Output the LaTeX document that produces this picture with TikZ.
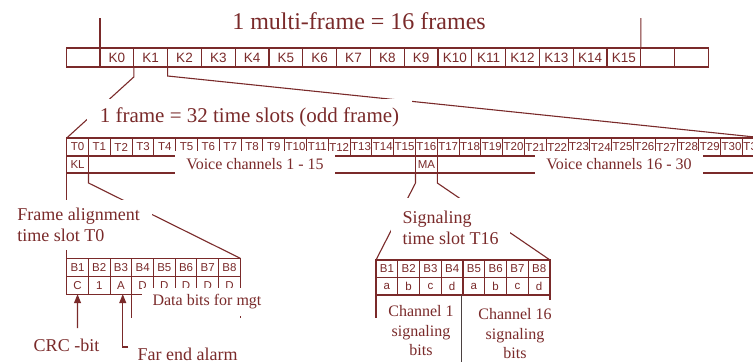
\documentclass[tikz,border=0pt]{standalone}
\usepackage{fontspec}
\setmainfont{Liberation Serif}
\setsansfont{Liberation Sans}
\usepackage{tikz}
\usetikzlibrary{arrows.meta}
\definecolor{framered}{RGB}{122,42,42}
\definecolor{divgray}{RGB}{75,65,65}

\begin{document}
\begin{tikzpicture}[x=1pt, y=-1pt, color=framered, line width=1.1pt,
  kcell/.style={draw, anchor=north west, minimum width=33.8pt,
                minimum height=19pt, inner sep=0pt, outer sep=0pt,
                font=\sffamily\fontsize{13.5}{14}\selectfont},
  tcell/.style={draw, anchor=north west, minimum width=21.8pt,
                minimum height=18pt, inner sep=0pt, outer sep=0pt,
                font=\sffamily\fontsize{11.5}{12}\selectfont},
  bcell/.style={tcell, minimum width=21.7pt, minimum height=18.4pt},
  mask/.style={fill=white, inner sep=0pt, align=center},
  arr/.style={-{Triangle[length=9pt,width=7pt]}},
  ]
  \useasboundingbox (0,0) rectangle (753,364);
  \clip (0,0) rectangle (753,364);
  \fill[white] (0,0) rectangle (753,364);

  % multi-frame row
  \foreach \i in {0,...,15}
    \node[kcell] (k\i) at ({100+33.8*\i},48) {K\i};
  \node[kcell, anchor=north east] (kfront) at (k0.north west) {};
  \node[kcell] (kback1) at (k15.north east) {};
  \node[kcell] (kback2) at (kback1.north east) {};
  \coordinate (tickL) at (100,18);
  \coordinate (tickR) at (640.8,18);
  \draw (k0.north west) -- (tickL);
  \draw (k15.north east) -- (tickR);

  % frame row
  \foreach \i in {0,...,31}
    \node[tcell] (t\i) at ({66.7+21.8*\i},138) {T\i};
  \node[tcell, minimum height=17pt] (kl) at (t0.south west) {KL};
  \node[tcell, minimum height=17pt] (ma) at (t16.south west) {MA};
  \draw (kl.north east) rectangle (ma.south west);
  \draw (ma.north east) rectangle (t31.south east |- ma.south);

  % time slot T0
  \foreach \lbl [count=\i] in {C,1,A,D,D,D,D,D} {
    \node[bcell] (b\i) at ({66.7+21.7*(\i-1)},258.3) {B\i};
    \node[bcell, minimum height=17.5pt] (c\i) at (b\i.south west) {\lbl};
  }

  % time slot T16
  \foreach \lbl [count=\i] in {a,b,c,d,a,b,c,d} {
    \node[bcell, minimum width=21.75pt, minimum height=17.3pt] (s\i)
      at ({376+21.75*(\i-1)},260) {B\i};
    \node[bcell, minimum width=21.75pt, minimum height=17.7pt] (sv\i)
      at (s\i.south west) {\lbl};
  }

  % zoom lines
  \draw (k1.south west) -- ++(0,10) -- (t0.north west);
  \draw (k2.south west) -- ++(0,9) -- (t31.north east);
  \draw (kl.south west) -- (b1.north west);
  \draw (kl.south east) -- ++(0,10) -- (b8.north east);
  \draw (ma.south west) -- ++(0,10) -- (s1.north west);
  \draw (ma.south east) -- ++(0,10) -- (s8.north east);
  \draw (c3.south east) -- ++(0,24);
  \draw (c8.south east) -- ++(0,24);
  \draw (sv1.south west) -- ++(0,23);
  \draw (sv8.south east) -- ++(0,8);
  \draw[divgray] ([xshift=-1.6pt]sv4.south east) -- ++(0,67);

  % labels
  \node[mask, font=\fontsize{24}{28}\selectfont, minimum width=262pt,
        minimum height=26pt] (mftitle) at (359,21) {1 multi-frame = 16 frames};
  \node[mask, font=\fontsize{21}{25}\selectfont, minimum width=325pt,
        minimum height=37pt] (frtitle) at (249.5,117.5)
        {1 frame = 32 time slots (odd frame)};
  \node[mask, font=\fontsize{16}{19}\selectfont, minimum width=160pt,
        minimum height=26pt] (voice1) at (255,164) {Voice channels 1 - 15};
  \node[mask, font=\fontsize{16}{19}\selectfont, minimum width=168pt,
        minimum height=26pt] (voice2) at (619,164) {Voice channels 16 - 30};
  \node[mask, align=left, font=\fontsize{18}{21}\selectfont,
        minimum width=147pt, minimum height=50pt] (fatext) at (78.5,225)
        {Frame alignment\\time slot T0};
  \node[mask, align=left, font=\fontsize{18}{21}\selectfont,
        minimum width=119pt, minimum height=60pt] (sigtext) at (450.5,228)
        {Signaling\\time slot T16};
  \node[mask, font=\fontsize{16}{19}\selectfont, minimum width=130pt,
        minimum height=28pt] (datatext) at (207,302) {Data bits for mgt};
  \node[font=\fontsize{18}{21}\selectfont, inner sep=2pt] (crctext)
        at (66.5,345) {CRC -bit};
  \node[font=\fontsize{18}{21}\selectfont, inner sep=2pt, anchor=west]
        (featext) at (135,354) {Far end alarm};
  \node[align=center, font=\fontsize{16}{19.5}\selectfont] (ch1text)
        at (421,331) {Channel 1\\signaling\\bits};
  \node[mask, font=\fontsize{16}{19.5}\selectfont, minimum width=88pt,
        minimum height=68pt] (ch16text) at (515,334)
        {Channel 16\\signaling\\bits};

  % arrows
  \coordinate (crctail) at (77.5,328);
  \draw[arr] (crctail) -- (c1.south);
  \coordinate (feafoot) at (128,347);
  \draw[arr] (feafoot) -| ([xshift=1.8pt]c3.south);
\end{tikzpicture}
\end{document}
